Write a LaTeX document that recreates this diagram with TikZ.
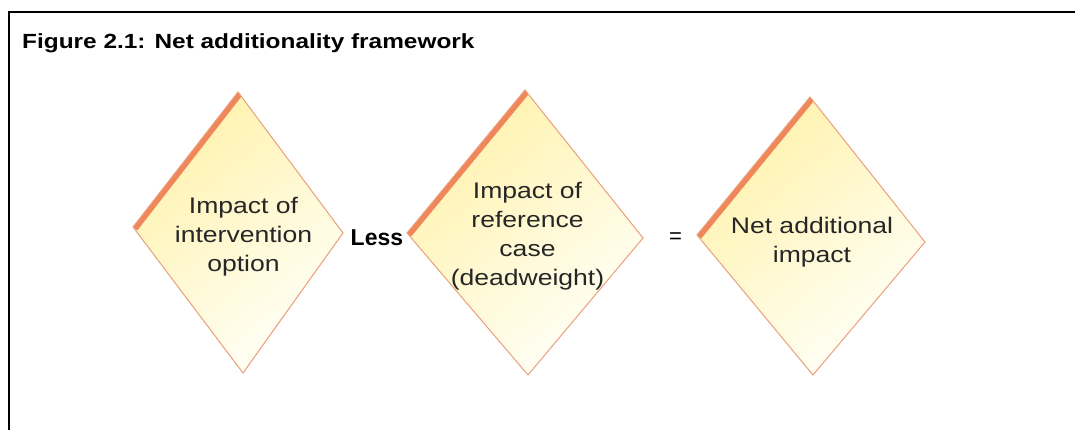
\documentclass[tikz,border=0pt]{standalone}
\usepackage{fontspec}
\setmainfont{Liberation Sans}
\newfontfamily\titlefont[FakeStretch=1.19]{Liberation Sans}
\newfontfamily\dfont[FakeStretch=1.18]{Liberation Sans}
\definecolor{framecol}{RGB}{0,0,0}
\definecolor{fillA}{RGB}{255,242,172}
\definecolor{fillB}{RGB}{255,255,248}
\definecolor{edgecol}{RGB}{232,160,125}
\definecolor{stripcol}{RGB}{240,135,90}
\tikzset{
  frameline/.style={draw=framecol, line width=2.2pt},
  dshade/.style={top color=fillA, bottom color=fillB, shading angle=40},
  dedge/.style={draw=edgecol, line width=1pt, line join=miter},
  dstrip/.style={draw=stripcol, line width=11pt},
  dtext/.style={font=\dfont\fontsize{22.5}{29}\selectfont, align=center, inner sep=0pt, text=black!85},
  optext/.style={font=\fontsize{23}{26}\selectfont, inner sep=0pt}
}
\begin{document}
\begin{tikzpicture}[x=1pt,y=-1pt]
\useasboundingbox (0,0) rectangle (1075,430);
\fill[white] (0,0) rectangle (1075,430);
% frame (right and bottom sides lie outside the picture)
\draw[frameline] (1090,12) -- (8.8,12) -- (8.8,445);
% title
\node[font=\titlefont\bfseries\fontsize{20.5}{24}\selectfont, anchor=base west, inner sep=0pt] (title) at (22,49) {Figure 2.1: Net additionality framework};

% diamond 1
\coordinate (aT) at (238,92); \coordinate (aL) at (133,227);
\coordinate (aR) at (343,233); \coordinate (aB) at (243,373);
% diamond 2
\coordinate (bT) at (525,90); \coordinate (bL) at (407,233);
\coordinate (bR) at (643,238); \coordinate (bB) at (528,375);
% diamond 3
\coordinate (cT) at (810,97); \coordinate (cL) at (697,235);
\coordinate (cR) at (925,242); \coordinate (cB) at (813,375);

\foreach \d in {a,b,c}{
  \shade[dshade] (\d T) -- (\d R) -- (\d B) -- (\d L) -- cycle;
  \begin{scope}
    \clip (\d T) -- (\d R) -- (\d B) -- (\d L) -- cycle;
    \draw[dstrip] (\d L) -- (\d T);
  \end{scope}
  \draw[dedge] (\d T) -- (\d R) -- (\d B) -- (\d L) -- cycle;
}

\node[dtext] (t1) at (243.5,236.6) {Impact of\\intervention\\option};
\node[dtext] (t2) at (527.5,235.7) {Impact of\\reference\\case\\(deadweight)};
\node[dtext] (t3) at (812,241.7) {Net additional\\impact};

\node[optext, font=\bfseries\fontsize{23}{26}\selectfont, anchor=base west] (less) at (350.5,245) {Less};
\node[optext, font=\fontsize{22}{26}\selectfont] (eq) at (675.5,238) {=};
\end{tikzpicture}
\end{document}
